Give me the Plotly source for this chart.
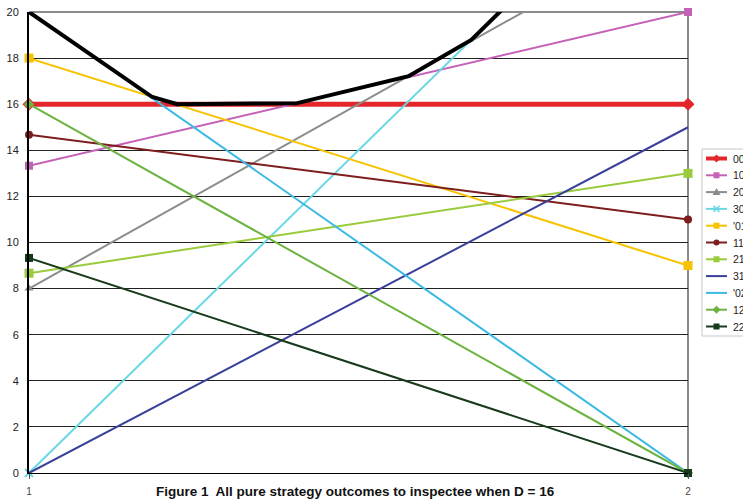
import numpy as np
import plotly.graph_objects as go

# Category axis (the two inspector moves) and the inspectee payoff of each pure strategy
categories = [1, 2]
tick_labels = ["1", "2"]

series_names = ["00", "10", "20", "30", "'01", "11", "21", "31", "'02", "12", "22"]
s00 = [16, 16]
s10 = [13.33, 20]
s20 = [8, 24]
s30 = [0, 28]
s01 = [18, 9]
s11 = [14.67, 11]
s21 = [8.67, 13]
s31 = [0, 15]
s02 = [20, 0]
s12 = [16, 0]
s22 = [9.33, 0]
series_values = [s00, s10, s20, s30, s01, s11, s21, s31, s02, s12, s22]

title_text = "Figure 1  All pure strategy outcomes to inspectee when D = 16"

# Line / marker styling per series
styles = [
    dict(color="#e3262b", width=5, symbol="diamond", size=10, lw=4),
    dict(color="#c462b8", width=2, symbol="square", size=8, lw=2),
    dict(color="#8c8c8c", width=2, symbol="triangle-up", size=8, lw=2),
    dict(color="#6ad8e4", width=2, symbol="x-thin", size=8, lw=2),
    dict(color="#f7c300", width=2, symbol="square", size=9, lw=2),
    dict(color="#7e1d1d", width=2, symbol="circle", size=8, lw=2),
    dict(color="#9acb3c", width=2, symbol="square", size=9, lw=2),
    dict(color="#3a3f9a", width=2, symbol=None, size=0, lw=2),
    dict(color="#3cb9e3", width=2, symbol=None, size=0, lw=2),
    dict(color="#6cb33f", width=2, symbol="diamond", size=8, lw=2),
    dict(color="#183a1c", width=2, symbol="square", size=8, lw=2),
]


def marker_for(st):
    m = dict(symbol=st["symbol"], size=st["size"], color=st["color"])
    if st["symbol"] == "x-thin":
        m["line"] = dict(color=st["color"], width=2)
    return m


fig = go.Figure()
for name, vals, st in zip(series_names, series_values, styles):
    if st["symbol"] is None:
        fig.add_trace(go.Scatter(x=categories, y=vals, name=name, mode="lines",
                                 line=dict(color=st["color"], width=st["width"])))
    else:
        fig.add_trace(go.Scatter(x=categories, y=vals, name=name, mode="lines+markers",
                                 line=dict(color=st["color"], width=st["width"]),
                                 marker=marker_for(st), cliponaxis=False))

# Upper envelope of all pure strategies (best response of the inspectee)
grid = np.linspace(categories[0], categories[1], 2001)
stack = np.array([np.interp(grid, categories, v) for v in series_values])
envelope = stack.max(axis=0)
fig.add_trace(go.Scatter(x=grid, y=envelope, mode="lines",
                         line=dict(color="#000000", width=4), hoverinfo="skip"))

font_family = "Liberation Sans, Arial, sans-serif"

# Page geometry in pixels (plot area edges)
W, H = 743, 504
PL, PR, PT, PB = 29, 688, 12, 473


def px_x(px):
    return (px - PL) / (PR - PL)


def px_y(py):
    return (PB - py) / (PB - PT)


def swatch_marker(symbol, cx, cy, s, color):
    """Small legend marker drawn as a paper-space shape, centred on pixel (cx, cy)."""
    h = s / 2
    if symbol == "square":
        fig.add_shape(type="rect", xref="paper", yref="paper",
                      x0=px_x(cx - h), x1=px_x(cx + h), y0=px_y(cy + h), y1=px_y(cy - h),
                      line=dict(width=0), fillcolor=color, layer="below")
    elif symbol == "circle":
        fig.add_shape(type="circle", xref="paper", yref="paper",
                      x0=px_x(cx - h), x1=px_x(cx + h), y0=px_y(cy + h), y1=px_y(cy - h),
                      line=dict(width=0), fillcolor=color, layer="below")
    elif symbol == "diamond":
        pts = [(cx, cy - h - 1), (cx + h + 1, cy), (cx, cy + h + 1), (cx - h - 1, cy)]
        path = "M " + " L ".join(f"{px_x(a):.5f},{px_y(b):.5f}" for a, b in pts) + " Z"
        fig.add_shape(type="path", xref="paper", yref="paper", path=path,
                      line=dict(width=0), fillcolor=color, layer="below")
    elif symbol == "triangle-up":
        pts = [(cx, cy - h - 1), (cx + h + 1, cy + h), (cx - h - 1, cy + h)]
        path = "M " + " L ".join(f"{px_x(a):.5f},{px_y(b):.5f}" for a, b in pts) + " Z"
        fig.add_shape(type="path", xref="paper", yref="paper", path=path,
                      line=dict(width=0), fillcolor=color, layer="below")
    elif symbol == "x-thin":
        for dx in (-h, h):
            fig.add_shape(type="line", xref="paper", yref="paper",
                          x0=px_x(cx - dx), x1=px_x(cx + dx), y0=px_y(cy - h), y1=px_y(cy + h),
                          line=dict(color=color, width=1.5), layer="below")


# Compact legend box at the right edge
LEG_LEFT, LEG_TOP, LEG_BOTTOM = 702, 149, 336
ROW0, ROW_STEP = 158.5, 16.8
SAMPLE_X0, SAMPLE_X1, TEXT_X = 706, 727, 731

fig.add_shape(type="rect", xref="paper", yref="paper",
              x0=px_x(LEG_LEFT), x1=px_x(W + 20), y0=px_y(LEG_BOTTOM), y1=px_y(LEG_TOP),
              line=dict(color="#c8c8c8", width=1), fillcolor="white", layer="below")

for i, (name, st) in enumerate(zip(series_names, styles)):
    ry = ROW0 + i * ROW_STEP
    fig.add_shape(type="line", xref="paper", yref="paper",
                  x0=px_x(SAMPLE_X0), x1=px_x(SAMPLE_X1), y0=px_y(ry), y1=px_y(ry),
                  line=dict(color=st["color"], width=st["lw"]), layer="below")
    if st["symbol"] is not None:
        swatch_marker(st["symbol"], (SAMPLE_X0 + SAMPLE_X1) / 2, ry, 6, st["color"])
    fig.add_annotation(text=name, xref="paper", yref="paper", x=px_x(TEXT_X), y=px_y(ry),
                       xanchor="left", yanchor="middle", showarrow=False,
                       font=dict(size=10.5, color="#222222", family=font_family))

fig.update_layout(
    width=W, height=H,
    margin=dict(l=PL, r=W - PR, t=PT, b=H - PB, autoexpand=False),
    paper_bgcolor="white", plot_bgcolor="white",
    font=dict(family=font_family, size=10, color="#222222"),
    showlegend=False,
    xaxis=dict(range=[1, 2], tickvals=categories, ticktext=tick_labels,
               showgrid=False, zeroline=False, showline=True, linecolor="#000000",
               linewidth=1, ticks="outside", ticklen=5, tickcolor="#555555",
               ticklabelstandoff=4, tickfont=dict(size=10, color="#444444")),
    yaxis=dict(range=[0, 20], dtick=2, showgrid=True, gridcolor="#222222", gridwidth=1,
               zeroline=False, showline=True, linecolor="#000000", linewidth=2,
               ticks="", ticklabelstandoff=6, tickfont=dict(size=11, color="#222222")),
)

# Plot-area frame on the top and right sides
fig.add_shape(type="line", xref="paper", yref="paper", x0=0, x1=1, y0=1, y1=1,
              line=dict(color="#8a8a8a", width=2), layer="below")
fig.add_shape(type="line", xref="paper", yref="paper", x0=1, x1=1, y0=0, y1=1,
              line=dict(color="#8a8a8a", width=2), layer="below")

fig.add_annotation(text="<b>" + title_text + "</b>", xref="paper", yref="paper",
                   x=px_x(355), y=px_y(491), xanchor="center", yanchor="middle",
                   showarrow=False,
                   font=dict(size=13.5, color="#111111", family=font_family))

fig.write_html("out.html")
